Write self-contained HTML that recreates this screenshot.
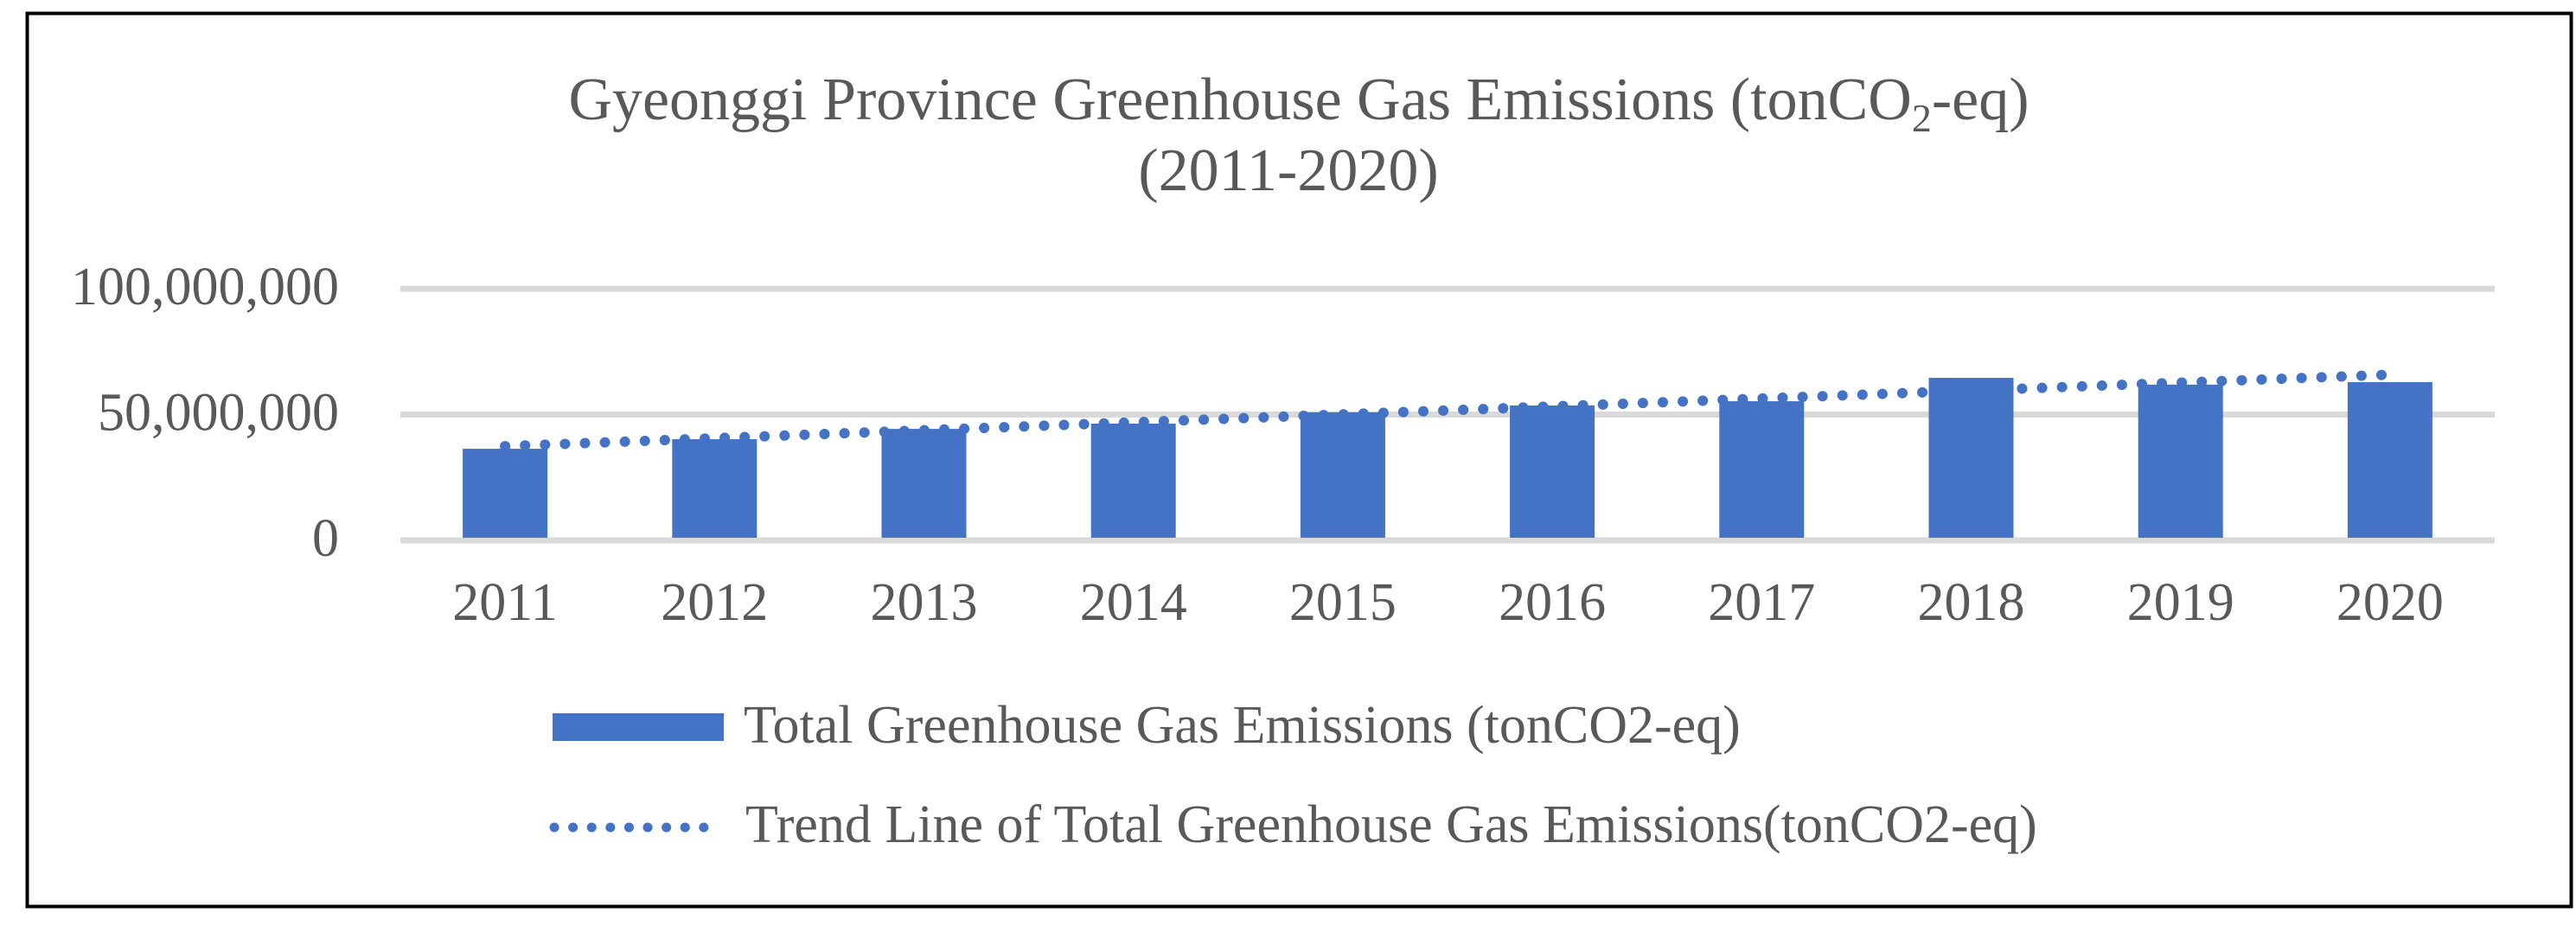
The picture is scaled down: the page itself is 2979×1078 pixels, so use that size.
<!DOCTYPE html>
<html><head><meta charset="utf-8"><style>
html,body{margin:0;padding:0;background:#fff}
svg{display:block}
text{font-family:"Liberation Serif",serif;fill:#595959}
</style></head><body>
<svg id="chart" width="2979" height="1078" viewBox="0 0 2979 1078" xmlns="http://www.w3.org/2000/svg">
<rect x="31.5" y="15.5" width="2942" height="1033" fill="#fff" stroke="#000" stroke-width="4"/>
<text x="1502" y="138" font-size="70" text-anchor="middle">Gyeonggi Province Greenhouse Gas Emissions (tonCO<tspan font-size="46" dy="14">2</tspan><tspan dy="-14">-eq)</tspan></text>
<text x="1490" y="220" font-size="70" text-anchor="middle">(2011-2020)</text>
<g id="grid"></g><g id="bars"></g><g id="trend"></g><g id="labels"></g>
<g>
<rect x="639" y="825" width="198" height="32" fill="#4472C4"/>
<text x="860" y="859" font-size="62">Total Greenhouse Gas Emissions (tonCO2-eq)</text>
<line x1="641" y1="957" x2="835" y2="957" stroke="#4472C4" stroke-width="11" stroke-linecap="round" stroke-dasharray="0.1 21.5"/>
<text x="862" y="974" font-size="62">Trend Line of Total Greenhouse Gas Emissions(tonCO2-eq)</text>
</g>
</svg>
<script>
const categories = ["2011","2012","2013","2014","2015","2016","2017","2018","2019","2020"];
const emissions = [36.4e6, 40.2e6, 44.3e6, 46.4e6, 50.9e6, 53.6e6, 55.3e6, 64.6e6, 61.9e6, 62.9e6];
const yTicks = [0, 50000000, 100000000];
const yTickLabels = ["0", "50,000,000", "100,000,000"];

const NS = "http://www.w3.org/2000/svg";
const plotL = 463, plotR = 2885, y0 = 625, y100 = 334;
const yMax = 100000000;
const band = (plotR - plotL) / categories.length;
function xScale(i){ return plotL + band * (i + 0.5); }
function yScale(v){ return y0 - (v / yMax) * (y0 - y100); }
function mk(tag, attrs, parent){ const e = document.createElementNS(NS, tag); for (const k in attrs) e.setAttribute(k, attrs[k]); parent.appendChild(e); return e; }

const grid = document.getElementById('grid');
const labels = document.getElementById('labels');
yTicks.forEach((t, i) => {
  const ln = mk('line', {x1: plotL, x2: plotR, y1: yScale(t), y2: yScale(t), stroke: '#D9D9D9', 'stroke-width': 7}, grid);
  
  
  const tx = mk('text', {x: 392, y: yScale(t) + 18, 'font-size': 62, 'text-anchor': 'end'}, labels);
  tx.textContent = yTickLabels[i];
  
  
});

const bars = document.getElementById('bars');
const bw = 98;
categories.forEach((c, i) => {
  const top = yScale(emissions[i]);
  const r = mk('rect', {x: xScale(i) - bw/2, y: top, width: bw, height: y0 - 3 - top, fill: '#4472C4'}, bars);
  
  
  const tx = mk('text', {x: xScale(i), y: 717, 'font-size': 62, 'text-anchor': 'middle'}, labels);
  tx.textContent = c;
  
  
});

// linear trend line (least squares)
const n = emissions.length;
let sx = 0, sy = 0, sxy = 0, sxx = 0;
emissions.forEach((v, i) => { sx += i; sy += v; sxy += i * v; sxx += i * i; });
const slope = (n * sxy - sx * sy) / (n * sxx - sx * sx);
const inter = (sy - slope * sx) / n;
const trend = mk('line', {x1: xScale(0), y1: yScale(inter), x2: xScale(n - 1), y2: yScale(inter + slope * (n - 1)),
  stroke: '#4472C4', 'stroke-width': 12, 'stroke-linecap': 'round', 'stroke-dasharray': '0.1 23'}, document.getElementById('trend'));


</script>
</body></html>
